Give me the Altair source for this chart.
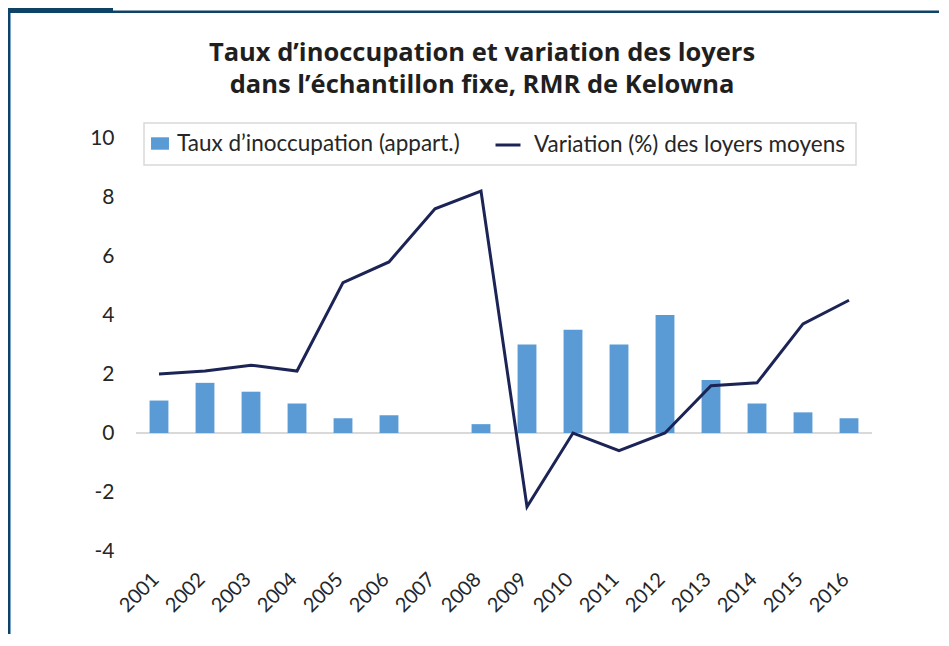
import altair as alt
import pandas as pd

# ---- data ----
annees = [str(y) for y in range(2001, 2017)]
taux_inoccupation = [1.1, 1.7, 1.4, 1.0, 0.5, 0.6, 0.0, 0.3, 3.0, 3.5, 3.0, 4.0, 1.8, 1.0, 0.7, 0.5]
variation_loyers = [2.0, 2.1, 2.3, 2.1, 5.1, 5.8, 7.6, 8.2, -2.5, 0.0, -0.6, 0.0, 1.6, 1.7, 3.7, 4.5]
y_ticks = [-4, -2, 0, 2, 4, 6, 8, 10]

SERIE_BAR = "Taux d\u2019inoccupation (appart.)"
SERIE_LINE = "Variation (%) des loyers moyens"
titre = ["Taux d\u2019inoccupation et variation des loyers",
         "dans l\u2019\u00e9chantillon fixe, RMR de Kelowna"]

BAR_COLOR = "#5B9BD5"
LINE_COLOR = "#1C2456"
FRAME_DARK = "#0E4266"
FRAME_LIGHT = "#7AA3C6"
TEXT = "#262626"
FONT = "Lato"

df_bar = pd.DataFrame({"annee": annees, "valeur": taux_inoccupation, "serie": SERIE_BAR})
df_line = pd.DataFrame({"annee": annees, "valeur": variation_loyers, "serie": SERIE_LINE})

PLOT_W, PLOT_H = 736, 413
PAD = {"left": 128, "top": 130, "right": 67, "bottom": 83}

x_scale = alt.Scale(paddingInner=0.59, paddingOuter=0.295)
x_enc = alt.X("annee:N", scale=x_scale, sort=annees,
              axis=alt.Axis(title=None, labelAngle=-45, labelAlign="right",
                            labelBaseline="middle", labelFontSize=20, labelFont=FONT,
                            labelColor=TEXT, labelPadding=25, labelOffset=-3,
                            domain=False, ticks=False, grid=False))
y_scale = alt.Scale(domain=[-4, 10], nice=False, zero=False)
y_enc = alt.Y("valeur:Q", scale=y_scale,
              axis=alt.Axis(title=None, values=y_ticks, labelFontSize=21, labelFont=FONT,
                            labelColor=TEXT, labelPadding=22, domain=False, ticks=False,
                            grid=False, labelExpr="toString(datum.value)"))

legend_common = dict(title=None, orient="none", direction="horizontal", padding=0,
                     labelFontSize=22.5, labelFont=FONT, labelColor=TEXT, labelLimit=400)

fill_enc = alt.Fill("serie:N", scale=alt.Scale(domain=[SERIE_BAR], range=[BAR_COLOR]),
                    legend=alt.Legend(legendX=12.5, legendY=-6, symbolSize=529,
                                      symbolType="M-0.78,-0.54H0.78V0.54H-0.78Z",
                                      labelOffset=5.5, symbolStrokeWidth=0,
                                      **legend_common))
stroke_enc = alt.Stroke("serie:N", scale=alt.Scale(domain=[SERIE_LINE], range=[LINE_COLOR]),
                        legend=alt.Legend(legendX=358, legendY=-7, symbolSize=625,
                                          symbolType="stroke", symbolStrokeWidth=3,
                                          labelOffset=12, **legend_common))

baseline = alt.Chart(pd.DataFrame({"zero": [0]})).mark_rule(
    color="#D9D9D9", strokeWidth=2).encode(y=alt.Y("zero:Q", scale=y_scale))

bars = alt.Chart(df_bar).mark_bar().encode(x=x_enc, y=y_enc, fill=fill_enc)

line = alt.Chart(df_line).mark_line(strokeWidth=3, strokeJoin="miter").encode(
    x=x_enc, y=y_enc, stroke=stroke_enc)

# decorative elements: legend box and page frame of the original publication
deco = pd.DataFrame({"k": [0]})
legend_box = alt.Chart(deco).mark_rect(fill="white", stroke="#D9D9D9", strokeWidth=1.5).encode(
    x=alt.value(8), x2=alt.value(720), y=alt.value(-15), y2=alt.value(27))
frame_left = alt.Chart(deco).mark_rule(color=FRAME_DARK, strokeWidth=2).encode(
    x=alt.value(-127), y=alt.value(-130), y2=alt.value(PLOT_H + 90))
frame_left2 = alt.Chart(deco).mark_rule(color=FRAME_LIGHT, strokeWidth=1).encode(
    x=alt.value(-125.5), y=alt.value(-126), y2=alt.value(PLOT_H + 90))
frame_top = alt.Chart(deco).mark_rule(color=FRAME_DARK, strokeWidth=2.5).encode(
    x=alt.value(-128), x2=alt.value(PLOT_W + 70), y=alt.value(-126.25))
frame_block = alt.Chart(deco).mark_rule(color=FRAME_DARK, strokeWidth=5).encode(
    x=alt.value(-128), x2=alt.value(-23), y=alt.value(-127.5))

chart = alt.layer(
    legend_box, baseline, bars, line, frame_left, frame_left2, frame_top, frame_block
).resolve_legend(fill="independent", stroke="independent").properties(
    width=PLOT_W, height=PLOT_H,
    padding=PAD,
    background="white",
    autosize=alt.AutoSizeParams(type="none"),
    title=alt.TitleParams(text=titre, fontSize=25.5, font="Open Sans", fontWeight="bold",
                          color="#1F1F1F", anchor="middle", dx=-22, offset=0, dy=91,
                          lineHeight=31.5),
).configure_view(stroke=None)

chart.save("out.html", embed_options={"renderer": "svg", "actions": False})
